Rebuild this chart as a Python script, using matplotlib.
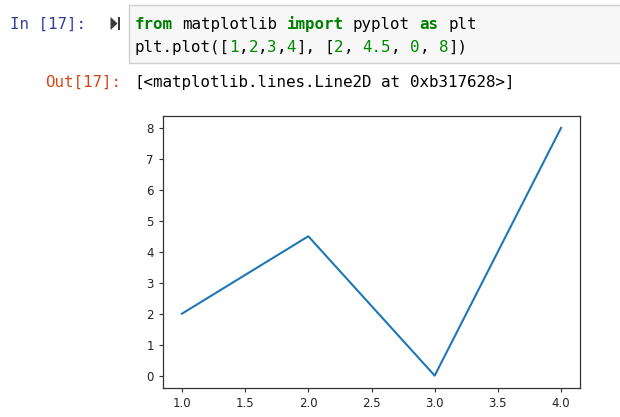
import re
import matplotlib
matplotlib.use("Agg")
import matplotlib.pyplot as plt
from matplotlib.patches import Rectangle, Polygon
from matplotlib.font_manager import FontProperties, findfont, get_font
from matplotlib.backends.backend_agg import get_hinting_flag

# data from the cell
xs = [1, 2, 3, 4]
ys = [2, 4.5, 0, 8]
xticks = [1.0, 1.5, 2.0, 2.5, 3.0, 3.5, 4.0]
yticks = [0, 1, 2, 3, 4, 5, 6, 7, 8]

W, H = 620, 417
DPI = 100
fig = plt.figure(figsize=(W / DPI, H / DPI), dpi=DPI)

mono = "DejaVu Sans Mono"
target_cw = 9.58               # char width in px, as in the screenshot


def advance(size, weight="normal"):
    # real rendered advance of one mono char, in px
    f = get_font(findfont(FontProperties(family=mono, weight=weight)))
    f.clear()
    f.set_size(size, DPI)
    f.set_text("0" * 41, 0.0, flags=get_hinting_flag())
    a = f.get_width_height()[0]
    f.set_text("0", 0.0, flags=get_hinting_flag())
    b = f.get_width_height()[0]
    return (a - b) / 40 / 64


fs = target_cw / 0.602 * 72 / DPI
for _ in range(3):
    fs *= target_cw / advance(fs)
cw = advance(fs)


def px(x, y):
    return x / W, 1 - y / H


# notebook cell chrome
fig.patches.append(Rectangle(px(129, 63), 495 / W, 58 / H, transform=fig.transFigure,
                             facecolor="#f7f7f7", edgecolor="#cfcfcf", lw=1))
fig.patches.append(Polygon([px(110.5, 17), px(110.5, 30), px(117.5, 23.5)], closed=True,
                           transform=fig.transFigure, facecolor="#3a3a3a", edgecolor="none"))
fig.patches.append(Rectangle(px(118, 30), 2.5 / W, 13 / H, transform=fig.transFigure,
                             facecolor="#3a3a3a", edgecolor="none"))

fig.text(*px(10, 29), "In [17]:", family=mono, fontsize=fs, color="#303F9F", va="baseline")
fig.text(*px(45, 87), "Out[17]:", family=mono, fontsize=fs, color="#D84315", va="baseline")


def code_line(x0, y, tokens):
    col = 0
    for s, color, weight in tokens:
        for m in re.finditer(r"\S+", s):
            x = x0 + (col + m.start()) * cw
            fig.text(*px(x, y), m.group(), family=mono, fontsize=fs, color=color,
                     fontweight=weight, va="baseline")
        col += len(s)


kw = "#008000"
num = "#008800"
blk = "#000000"
code_line(134.5, 29, [("from", kw, "bold"), (" matplotlib ", blk, "normal"),
                      ("import", kw, "bold"), (" pyplot ", blk, "normal"),
                      ("as", kw, "bold"), (" plt", blk, "normal")])
code_line(134.5, 52, [("plt.plot([", blk, "normal"), ("1", num, "normal"), (",", blk, "normal"),
                      ("2", num, "normal"), (",", blk, "normal"), ("3", num, "normal"),
                      (",", blk, "normal"), ("4", num, "normal"), ("], [", blk, "normal"),
                      ("2", num, "normal"), (", ", blk, "normal"), ("4.5", num, "normal"),
                      (", ", blk, "normal"), ("0", num, "normal"), (", ", blk, "normal"),
                      ("8", num, "normal"), ("])", blk, "normal")])
code_line(134.5, 87, [("[<matplotlib.lines.Line2D at 0xb317628>]", blk, "normal")])

# the plot itself
ax = fig.add_axes([163 / W, 1 - 388 / H, 417 / W, 272.5 / H])
ax.plot(xs, ys, color="#1f77b4", lw=1.5)
ax.set_xticks(xticks)
ax.set_yticks(yticks)
ax.tick_params(labelsize=8.5, length=3, width=0.8, pad=3.5, colors="#333333", labelcolor="#222222")
for sp in ax.spines.values():
    sp.set_color("#333333")
    sp.set_linewidth(0.9)

fig.savefig("out.png", dpi=DPI)
